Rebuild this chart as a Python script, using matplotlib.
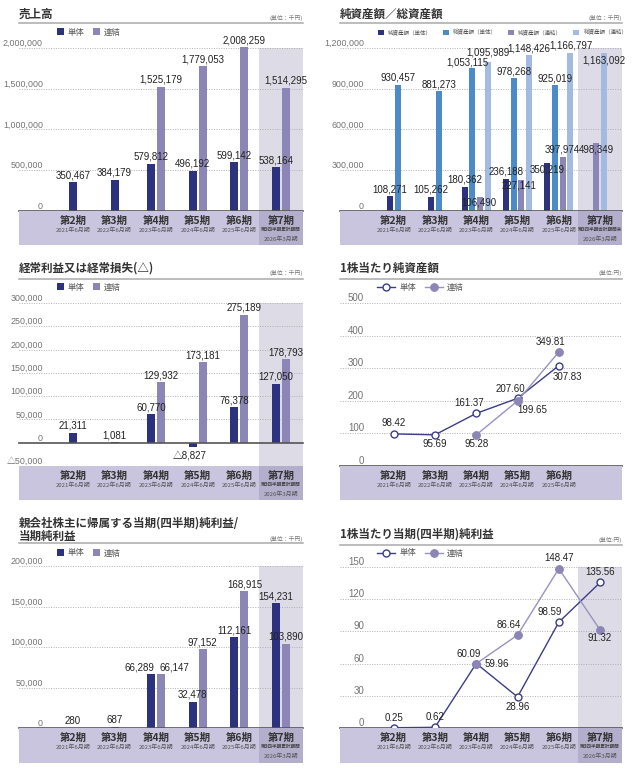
import matplotlib
matplotlib.use('Agg')
import matplotlib.pyplot as plt
from matplotlib.lines import Line2D
import numpy as np

# ---------------- data ----------------
periods = ['第2期', '第3期', '第4期', '第5期', '第6期', '第7期']
period_dates = ['2021年6月期', '2022年6月期', '2023年6月期', '2024年6月期', '2025年6月期', '2026年3月期']
q3_cumulative = '第3四半期累計期間'
q3_period_end = '第3四半期会計期間末'

sales_single = [350467, 384179, 579812, 496192, 599142, 538164]
sales_consol = [None, None, 1525179, 1779053, 2008259, 1514295]

net_assets_single = [108271, 105262, 180362, 236188, 350219, None]
total_assets_single = [930457, 881273, 1053115, 978268, 925019, None]
net_assets_consol = [None, None, 106490, 227141, 397974, 498349]
total_assets_consol = [None, None, 1095989, 1148426, 1166797, 1163092]

ordinary_single = [21311, 1081, 60770, -8827, 76378, 127050]
ordinary_consol = [None, None, 129932, 173181, 275189, 178793]

bps_single = [98.42, 95.69, 161.37, 207.60, 307.83]
bps_consol = [None, None, 95.28, 199.65, 349.81]

net_income_single = [280, 687, 66289, 32478, 112161, 154231]
net_income_consol = [None, None, 66147, 97152, 168915, 103890]

eps_single = [0.25, 0.62, 60.09, 28.96, 98.59, 135.56]
eps_consol = [None, None, 59.96, 86.64, 148.47, 91.32]

sales_ticks = [0, 500000, 1000000, 1500000, 2000000]
assets_ticks = [0, 300000, 600000, 900000, 1200000]
ordinary_ticks = [-50000, 0, 50000, 100000, 150000, 200000, 250000, 300000]
bps_ticks = [0, 100, 200, 300, 400, 500]
net_income_ticks = [0, 50000, 100000, 150000, 200000]
eps_ticks = [0, 30, 60, 90, 120, 150]

label_single = '単体'
label_consol = '連結'
assets_labels = ['純資産額（単体）', '総資産額（単体）', '純資産額（連結）', '総資産額（連結）']

# ---------------- style ----------------
W, H = 632, 768
fig = plt.figure(figsize=(W / 100, H / 100), dpi=100)
fig.patch.set_facecolor('white')

JP = ['Noto Sans CJK JP', 'DejaVu Sans']
NUM = ['Liberation Sans', 'Noto Sans CJK JP', 'DejaVu Sans']
TICK = ['Liberation Sans', 'Noto Sans CJK JP', 'DejaVu Sans']
plt.rcParams['font.family'] = JP

NAVY = '#2d327f'
PURPLE = '#8b86b5'
BLUE = '#4a8bc8'
LIGHTBLUE = '#a3bbe1'
BAND = '#c9c5de'
BAND7 = '#b3aecb'
SHADE = '#dddbe6'

XLIM = (-1.30, 5.53)
SHADE_X0 = 4.47
PX_PER_UNIT = 284 / (XLIM[1] - XLIM[0])


def axes_px(l, t, r, b):
    return fig.add_axes([l / W, 1 - b / H, (r - l) / W, (b - t) / H])


def header(L, R, title_lines, title_y, rule_y, unit, unit_y):
    for k, line in enumerate(title_lines):
        fig.text(L / W, 1 - (title_y + k * 13) / H, line, fontsize=8.3, fontweight='bold',
                 color='#333333', ha='left', va='center')
    fig.add_artist(Line2D([L / W, R / W], [1 - rule_y / H] * 2, color='#aaaaaa', lw=1.1))
    fig.text(R / W, 1 - unit_y / H, unit, fontsize=4.2, color='#777777', ha='right', va='center')


def fmt_thousands(v):
    return ('△' if v < 0 else '') + f'{abs(int(v)):,}'


def fmt_int(v):
    return f'{int(v)}'


def setup_plot(L, R, top, bottom, ylim, ticks, tick_fmt, shade, tick_size):
    ax = axes_px(L, top, R, bottom)
    ax.set_xlim(XLIM)
    ax.set_ylim(ylim)
    for s in ax.spines.values():
        s.set_visible(False)
    ax.set_xticks([])
    ax.set_yticks(ticks)
    ax.set_yticklabels([tick_fmt(t) for t in ticks])
    ax.tick_params(axis='y', length=0, pad=-24 * 0.72, labelsize=tick_size, labelcolor='#737373')
    for t in ax.get_yticklabels():
        t.set_verticalalignment('bottom')
        t.set_family(TICK)
    for t in ticks:
        if t > 0:
            ax.axhline(t, color='#b0b0b0', lw=0.7, ls=(0, (1, 1.5)), zorder=1)
    ax.axhline(0, color='#555555', lw=1.2, zorder=5, clip_on=False)
    if shade:
        ax.axvspan(SHADE_X0, XLIM[1], color=SHADE, zorder=0, lw=0)
    return ax


def band(L, R, top, bottom, n_cats, sub7):
    ax = axes_px(L, top, R, bottom)
    ax.set_xlim(XLIM)
    h = bottom - top
    ax.set_ylim(h, 0)
    ax.axis('off')
    ax.axvspan(XLIM[0], XLIM[1], color=BAND, lw=0)
    if sub7:
        ax.axvspan(SHADE_X0, XLIM[1], color=BAND7, lw=0)
    for i in range(n_cats):
        ax.text(i, 9.5, periods[i], fontsize=7.5, fontweight='bold', color='#333333',
                ha='center', va='center')
        if i == 5 and sub7:
            ax.text(i, 18.5, sub7, fontsize=3.3, fontweight='bold', color='#444444',
                    ha='center', va='center')
            ax.text(i, 28, period_dates[i], fontsize=4.3, color='#555555',
                    ha='center', va='center')
        else:
            ax.text(i, 19.5, period_dates[i], fontsize=4.3, color='#555555',
                    ha='center', va='center')
    return ax


def draw_bars(ax, series, colors, names, width_px, step_px, adjust=None, fontsize=7):
    adjust = adjust or {}
    width = width_px / PX_PER_UNIT
    step = step_px / PX_PER_UNIT
    n = len(series[0])
    pos = [[None] * n for _ in series]
    for i in range(n):
        avail = [s for s in range(len(series)) if series[s][i] is not None]
        k = len(avail)
        for j, s in enumerate(avail):
            pos[s][i] = i + (j - (k - 1) / 2) * step
    handles = []
    for s, vals in enumerate(series):
        idx = [i for i in range(n) if vals[i] is not None]
        xs = [pos[s][i] for i in idx]
        ys = [vals[i] for i in idx]
        h = ax.bar(xs, ys, width=width, color=colors[s], label=names[s], zorder=3, lw=0,
                   clip_on=False)
        handles.append(h)
        for x, y, i in zip(xs, ys, idx):
            dx, dy = adjust.get((s, i), (0, 7 if y >= 0 else -7))
            ax.annotate(fmt_thousands(y), (x, y), xytext=(dx, dy), textcoords='offset pixels',
                        ha='center', va='center', fontsize=fontsize, color='#222222',
                        family=NUM, zorder=6, annotation_clip=False)
    return handles


def bar_legend(ax, handles, x_px, y_px, fontsize=6, hl=0.8, hp=0.5, cs=1.0):
    ax.legend(handles=handles, loc='center left', bbox_to_anchor=(x_px / W, 1 - y_px / H),
              bbox_transform=fig.transFigure, ncol=len(handles), frameon=False,
              fontsize=fontsize, handlelength=hl, handleheight=hl, handletextpad=hp,
              columnspacing=cs, borderpad=0, borderaxespad=0, labelcolor='#555555')


def to_nan(vals):
    return np.array([np.nan if v is None else v for v in vals], dtype=float)


def draw_lines(ax, single, consol, off_s, off_c):
    xs = np.arange(len(single))
    ys = to_nan(single)
    yc = to_nan(consol)
    l1, = ax.plot(xs, ys, color='#3b3d85', lw=1.0, marker='o', ms=5, mfc='white', mec='#3b3d85',
                  mew=1.0, zorder=6, clip_on=False, label=label_single)
    l2, = ax.plot(xs, yc, color='#9893c0', lw=1.0, marker='o', ms=5.5, mfc=PURPLE, mec=PURPLE,
                  mew=0.8, zorder=7, clip_on=False, label=label_consol)
    for vals, offs in ((single, off_s), (consol, off_c)):
        for i, v in enumerate(vals):
            if v is None:
                continue
            dx, dy = offs[i]
            ax.annotate(f'{v:.2f}', (i, v), xytext=(dx, dy), textcoords='offset pixels',
                        ha='center', va='center', fontsize=7, color='#222222', family=NUM,
                        zorder=8, annotation_clip=False)
    return [l1, l2]


def line_legend(ax, handles, x_px, y_px):
    ax.legend(handles=handles, loc='center left', bbox_to_anchor=(x_px / W, 1 - y_px / H),
              bbox_transform=fig.transFigure, ncol=2, frameon=False, fontsize=6,
              handlelength=2.2, handletextpad=0.5, columnspacing=1.0, borderpad=0,
              borderaxespad=0, labelcolor='#555555', numpoints=1)


LL, LR = 19, 303
RL, RR = 340, 622
BIG_TICK = 6.4
SMALL_TICK = 7

# ---------- Panel 1: 売上高 ----------
header(LL, LR, ['売上高'], 14, 23, '(単位：千円)', 18)
ax1 = setup_plot(LL, LR, 48, 211, (0, 2000000), sales_ticks, fmt_thousands, True, BIG_TICK)
h1 = draw_bars(ax1, [sales_single, sales_consol], [NAVY, PURPLE], [label_single, label_consol], 8, 10)
bar_legend(ax1, h1, 57, 32)
band(LL, LR, 211, 245, 6, q3_cumulative)

# ---------- Panel 2: 純資産額／総資産額 ----------
header(RL, RR, ['純資産額／総資産額'], 14, 23, '(単位：千円)', 18)
ax2 = setup_plot(RL, RR, 48, 211, (0, 1200000), assets_ticks, fmt_thousands, True, BIG_TICK)
adj2 = {(2, 2): (-1, -5.5), (2, 3): (-2, -5), (0, 4): (0, -6), (2, 5): (0, -6),
        (3, 5): (0, -7), (1, 2): (-5, 5), (3, 2): (0, 10)}
h2 = draw_bars(ax2, [net_assets_single, total_assets_single, net_assets_consol, total_assets_consol],
               [NAVY, BLUE, PURPLE, LIGHTBLUE], assets_labels, 6, 7.8, adj2, fontsize=7)
bar_legend(ax2, h2, 378, 32, fontsize=4, hl=1.1, hp=0.7, cs=2.0)
band(RL, RR, 211, 245, 6, q3_period_end)

# ---------- Panel 3: 経常利益 ----------
header(LL, LR, ['経常利益又は経常損失(△)'], 268, 279, '(単位：千円)', 273)
ax3 = setup_plot(LL, LR, 303, 466, (-50000, 300000), ordinary_ticks, fmt_thousands, True, BIG_TICK)
h3 = draw_bars(ax3, [ordinary_single, ordinary_consol], [NAVY, PURPLE], [label_single, label_consol], 8, 10,
               {(0, 3): (-3, -9)})
bar_legend(ax3, h3, 57, 287)
band(LL, LR, 466, 500, 6, q3_cumulative)

# ---------- Panel 4: 1株当たり純資産額 ----------
header(RL, RR, ['1株当たり純資産額'], 268, 279, '(単位:円)', 273)
ax4 = setup_plot(RL, RR, 303, 466, (0, 500), bps_ticks, fmt_int, False, SMALL_TICK)
off4_s = [(0, 11), (0, -9), (-7, 10), (-7, 9), (9, -11)]
off4_c = [None, None, (0, -9), (15, -9), (-8, 10)]
hl4 = draw_lines(ax4, bps_single, bps_consol, off4_s, off4_c)
line_legend(ax4, hl4, 377, 287)
band(RL, RR, 466, 500, 5, None)

# ---------- Panel 5: 純利益 ----------
header(LL, LR, ['親会社株主に帰属する当期(四半期)純利益/', '当期純利益'], 523, 543, '(単位：千円)', 539)
ax5 = setup_plot(LL, LR, 566, 728, (0, 200000), net_income_ticks, fmt_thousands, True, BIG_TICK)
h5 = draw_bars(ax5, [net_income_single, net_income_consol], [NAVY, PURPLE], [label_single, label_consol], 8, 10,
               {(0, 2): (-12, 7), (1, 2): (13, 7)})
bar_legend(ax5, h5, 57, 553)
band(LL, LR, 728, 763, 6, q3_cumulative)

# ---------- Panel 6: 1株当たり当期純利益 ----------
header(RL, RR, ['1株当たり当期(四半期)純利益'], 534, 545, '(単位:円)', 540)
ax6 = setup_plot(RL, RR, 567, 728, (0, 150), eps_ticks, fmt_int, True, SMALL_TICK)
off6_s = [(0, 10), (0, 10), (-8, 10), (0, -10), (-9, 10), (0, 10)]
off6_c = [None, None, (21, 0), (-9, 10), (0, 11), (0, -8)]
hl6 = draw_lines(ax6, eps_single, eps_consol, off6_s, off6_c)
line_legend(ax6, hl6, 377, 553)
band(RL, RR, 728, 763, 6, q3_cumulative)

fig.savefig('out.png', dpi=100, facecolor='white')
